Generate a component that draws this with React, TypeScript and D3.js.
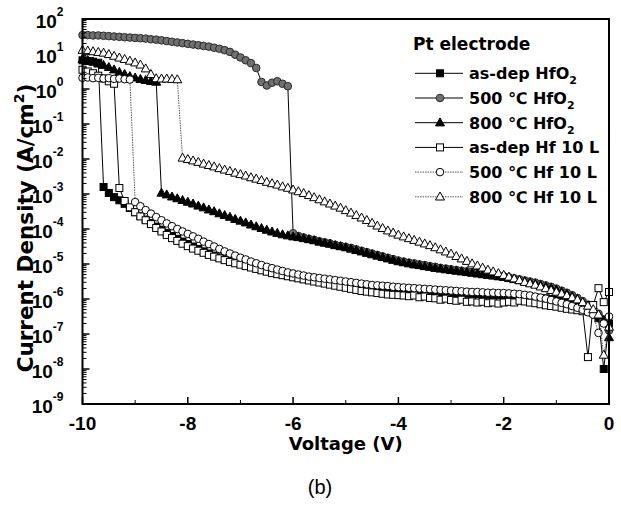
import React from 'react';
import * as d3 from 'd3';

// Sweep voltage (V)
const voltage = [
  -10, -9.9, -9.8, -9.7, -9.6, -9.5, -9.4, -9.3, -9.2, -9.1,
  -9, -8.9, -8.8, -8.7, -8.6, -8.5, -8.4, -8.3, -8.2, -8.1,
  -8, -7.9, -7.8, -7.7, -7.6, -7.5, -7.4, -7.3, -7.2, -7.1,
  -7, -6.9, -6.8, -6.7, -6.6, -6.5, -6.4, -6.3, -6.2, -6.1,
  -6, -5.9, -5.8, -5.7, -5.6, -5.5, -5.4, -5.3, -5.2, -5.1,
  -5, -4.9, -4.8, -4.7, -4.6, -4.5, -4.4, -4.3, -4.2, -4.1,
  -4, -3.9, -3.8, -3.7, -3.6, -3.5, -3.4, -3.3, -3.2, -3.1,
  -3, -2.9, -2.8, -2.7, -2.6, -2.5, -2.4, -2.3, -2.2, -2.1,
  -2, -1.9, -1.8, -1.7, -1.6, -1.5, -1.4, -1.3, -1.2, -1.1,
  -1, -0.9, -0.8, -0.7, -0.6, -0.5, -0.4, -0.3, -0.2, -0.1,
  0,
];

// log10 of current density (A/cm^2), one value per voltage point
const logJ_asDepHfO2 = [
  0.82, 0.80, 0.78, 0.75, -2.80, -2.97, -3.09, -3.18, -3.28, -3.40,
  -3.52, -3.63, -3.73, -3.83, -3.93, -4.02, -4.11, -4.20, -4.28, -4.36,
  -4.43, -4.50, -4.57, -4.64, -4.70, -4.76, -4.81, -4.86, -4.91, -4.95,
  -5.00, -5.04, -5.08, -5.12, -5.16, -5.20, -5.24, -5.27, -5.30, -5.33,
  -5.36, -5.39, -5.42, -5.44, -5.47, -5.49, -5.51, -5.53, -5.55, -5.57,
  -5.59, -5.60, -5.62, -5.63, -5.65, -5.66, -5.67, -5.68, -5.70, -5.71,
  -5.72, -5.73, -5.74, -5.75, -5.76, -5.77, -5.78, -5.79, -5.80, -5.81,
  -5.82, -5.83, -5.84, -5.85, -5.85, -5.86, -5.87, -5.88, -5.88, -5.89,
  -5.90, -5.91, -5.92, -5.93, -5.94, -5.95, -5.96, -5.97, -5.98, -6.00,
  -6.02, -6.05, -6.08, -6.12, -6.16, -6.20, -6.30, -6.40, -6.55, -8.00,
  -6.70,
];
const logJ_500HfO2 = [
  1.54, 1.54, 1.53, 1.53, 1.52, 1.51, 1.50, 1.49, 1.48, 1.47,
  1.46, 1.45, 1.44, 1.42, 1.41, 1.39, 1.37, 1.35, 1.33, 1.31,
  1.29, 1.27, 1.25, 1.23, 1.21, 1.18, 1.15, 1.11, 1.06, 0.98,
  0.90, 0.82, 0.74, 0.60, 0.20, 0.10, 0.18, 0.22, 0.15, 0.08,
  -4.12, -4.20, -4.24, -4.28, -4.31, -4.35, -4.38, -4.41, -4.45, -4.48,
  -4.51, -4.54, -4.58, -4.62, -4.66, -4.70, -4.74, -4.78, -4.82, -4.86,
  -4.90, -4.93, -4.96, -4.98, -5.01, -5.03, -5.06, -5.08, -5.11, -5.13,
  -5.15, -5.17, -5.19, -5.21, -5.23, -5.25, -5.27, -5.29, -5.31, -5.33,
  -5.35, -5.38, -5.41, -5.44, -5.47, -5.50, -5.53, -5.57, -5.61, -5.65,
  -5.70, -5.76, -5.82, -5.89, -5.97, -6.06, -6.16, -6.28, -6.42, -6.58,
  -6.90,
];
const logJ_800HfO2 = [
  0.85, 0.82, 0.78, 0.72, 0.68, 0.62, 0.55, 0.48, 0.42, 0.36,
  0.32, 0.28, 0.25, 0.22, 0.20, -2.97, -3.02, -3.08, -3.13, -3.18,
  -3.23, -3.28, -3.34, -3.39, -3.45, -3.50, -3.56, -3.61, -3.66, -3.72,
  -3.77, -3.82, -3.88, -3.93, -3.98, -4.03, -4.08, -4.12, -4.16, -4.19,
  -4.22, -4.24, -4.27, -4.30, -4.33, -4.37, -4.40, -4.43, -4.47, -4.50,
  -4.53, -4.57, -4.61, -4.65, -4.69, -4.73, -4.77, -4.81, -4.85, -4.89,
  -4.93, -4.96, -4.99, -5.02, -5.04, -5.07, -5.09, -5.12, -5.14, -5.16,
  -5.18, -5.20, -5.22, -5.24, -5.26, -5.28, -5.30, -5.32, -5.34, -5.36,
  -5.38, -5.41, -5.44, -5.47, -5.50, -5.53, -5.57, -5.61, -5.65, -5.69,
  -5.74, -5.80, -5.86, -5.93, -6.01, -6.10, -6.20, -6.32, -6.46, -6.62,
  -7.10,
];
const logJ_asDepHf10L = [
  0.55, 0.50, 0.45, 0.38, 0.30, 0.22, 0.15, -2.83, -3.20, -3.38,
  -3.52, -3.64, -3.75, -3.86, -3.97, -4.07, -4.17, -4.26, -4.34, -4.42,
  -4.49, -4.56, -4.62, -4.68, -4.74, -4.79, -4.84, -4.89, -4.94, -4.98,
  -5.02, -5.06, -5.10, -5.14, -5.18, -5.22, -5.26, -5.29, -5.32, -5.35,
  -5.38, -5.41, -5.44, -5.47, -5.50, -5.53, -5.56, -5.59, -5.62, -5.65,
  -5.68, -5.71, -5.74, -5.77, -5.79, -5.81, -5.83, -5.85, -5.87, -5.88,
  -5.89, -5.90, -5.92, -5.90, -5.95, -5.93, -5.97, -5.98, -6.02, -5.99,
  -6.03, -6.05, -6.02, -6.08, -6.07, -6.10, -6.08, -6.12, -6.10, -6.13,
  -6.10, -6.08, -6.10, -6.05, -6.07, -6.10, -6.12, -6.15, -6.18, -6.20,
  -6.22, -6.25, -6.28, -6.30, -6.32, -6.35, -7.66, -6.17, -5.69, -6.09,
  -5.80,
];
const logJ_500Hf10L = [
  0.32, 0.33, 0.31, 0.32, 0.30, 0.31, 0.29, 0.30, 0.28, 0.27,
  -3.23, -3.35, -3.46, -3.56, -3.66, -3.75, -3.84, -3.92, -4.00, -4.07,
  -4.14, -4.21, -4.28, -4.36, -4.43, -4.50, -4.57, -4.64, -4.70, -4.76,
  -4.82, -4.87, -4.93, -4.98, -5.03, -5.08, -5.12, -5.16, -5.20, -5.24,
  -5.27, -5.30, -5.33, -5.36, -5.38, -5.40, -5.42, -5.44, -5.46, -5.48,
  -5.50, -5.52, -5.54, -5.56, -5.58, -5.60, -5.61, -5.62, -5.63, -5.65,
  -5.66, -5.67, -5.68, -5.69, -5.70, -5.71, -5.72, -5.73, -5.74, -5.75,
  -5.76, -5.77, -5.78, -5.79, -5.80, -5.80, -5.81, -5.82, -5.82, -5.83,
  -5.83, -5.84, -5.85, -5.86, -5.88, -5.90, -5.93, -5.96, -5.99, -6.03,
  -6.07, -6.11, -6.15, -6.20, -6.25, -6.31, -6.38, -6.45, -6.97, -6.70,
  -6.50,
];
const logJ_800Hf10L = [
  1.11, 1.09, 1.07, 1.05, 1.03, 0.99, 0.94, 0.89, 0.85, 0.80,
  0.75, 0.69, 0.58, 0.42, 0.30, 0.29, 0.29, 0.28, 0.27, -1.97,
  -2.01, -2.05, -2.09, -2.14, -2.18, -2.22, -2.27, -2.31, -2.35, -2.40,
  -2.44, -2.48, -2.53, -2.57, -2.61, -2.66, -2.70, -2.74, -2.79, -2.83,
  -2.88, -2.93, -2.98, -3.04, -3.10, -3.16, -3.22, -3.28, -3.34, -3.40,
  -3.47, -3.54, -3.61, -3.68, -3.75, -3.83, -3.91, -3.98, -4.05, -4.11,
  -4.17, -4.22, -4.27, -4.32, -4.37, -4.42, -4.47, -4.53, -4.59, -4.65,
  -4.71, -4.78, -4.85, -4.92, -4.99, -5.05, -5.11, -5.17, -5.22, -5.27,
  -5.32, -5.37, -5.42, -5.47, -5.52, -5.56, -5.60, -5.65, -5.70, -5.75,
  -5.80, -5.85, -5.90, -5.96, -6.02, -6.10, -6.20, -6.30, -6.45, -7.60,
  -6.80,
];

const yTickExponents = [2, 1, 0, -1, -2, -3, -4, -5, -6, -7, -8, -9];
const xMajorTicks = [-10, -8, -6, -4, -2, 0];
const xMinorTicks = [-9, -7, -5, -3, -1];

const legendTitle = 'Pt electrode';
const seriesNames = [
  ['as-dep HfO', '2'],
  ['500 \u2103 HfO', '2'],
  ['800 \u2103 HfO', '2'],
  ['as-dep Hf 10 L', ''],
  ['500 \u2103 Hf 10 L', ''],
  ['800 \u2103 Hf 10 L', ''],
];

type MarkerKind = 'square' | 'circle' | 'triangle';
interface SeriesStyle {
  data: number[];
  marker: MarkerKind;
  fill: string;
  stroke: string;
  lineColor: string;
  dash?: string;
}

const seriesStyles: SeriesStyle[] = [
  { data: logJ_asDepHfO2, marker: 'square', fill: '#000', stroke: '#000', lineColor: '#000' },
  { data: logJ_500HfO2, marker: 'circle', fill: '#707070', stroke: '#2a2a2a', lineColor: '#000' },
  { data: logJ_800HfO2, marker: 'triangle', fill: '#000', stroke: '#000', lineColor: '#000' },
  { data: logJ_asDepHf10L, marker: 'square', fill: '#fff', stroke: '#000', lineColor: '#000' },
  { data: logJ_500Hf10L, marker: 'circle', fill: '#fff', stroke: '#000', lineColor: '#555', dash: '1.5,1' },
  { data: logJ_800Hf10L, marker: 'triangle', fill: '#fff', stroke: '#000', lineColor: '#555', dash: '1.5,1' },
];

function Marker({ kind, cx, cy, fill, stroke }: { kind: MarkerKind; cx: number; cy: number; fill: string; stroke: string }) {
  if (kind === 'square') {
    const s = 7;
    return <rect x={cx - s / 2} y={cy - s / 2} width={s} height={s} fill={fill} stroke={stroke} strokeWidth={1} />;
  }
  if (kind === 'circle') {
    return <circle cx={cx} cy={cy} r={3.8} fill={fill} stroke={stroke} strokeWidth={1} />;
  }
  const h = 8;
  const w = 9;
  const pts = `${cx},${cy - h * 0.6} ${cx - w / 2},${cy + h * 0.4} ${cx + w / 2},${cy + h * 0.4}`;
  return <polygon points={pts} fill={fill} stroke={stroke} strokeWidth={1} />;
}

export default function App() {
  const W = 621;
  const H = 506;
  const left = 82.5;
  const right = 609;
  const top = 19;
  const bottom = 404;

  const x = d3.scaleLinear().domain([-10, 0]).range([left, right]);
  const y = d3.scaleLog().domain([1e-9, 1e2]).range([bottom, top]);

  const line = d3
    .line<[number, number]>()
    .x((d) => x(d[0]))
    .y((d) => y(d[1]));

  const minorY: number[] = [];
  for (let e = -9; e < 2; e++) {
    for (let k = 2; k <= 9; k++) minorY.push(k * Math.pow(10, e));
  }

  const tickFont = "'Liberation Sans', Arial, sans-serif";
  const titleFont = "'DejaVu Sans', sans-serif";

  const legendY0 = 73.3;
  const legendDy = 24.7;

  return (
    <svg width={W} height={H} style={{ position: 'absolute', left: 0, top: 0, background: '#fff' }}>
      <rect x={0} y={0} width={W} height={H} fill="#fff" />

      {/* series */}
      {seriesStyles.map((s, si) => {
        const pts: [number, number][] = voltage.map((v, i) => [v, Math.pow(10, s.data[i])]);
        return (
          <g key={si}>
            <path d={line(pts) || ''} fill="none" stroke={s.lineColor} strokeWidth={1} strokeDasharray={s.dash} />
            {pts.map((p, i) => (
              <Marker key={i} kind={s.marker} cx={x(p[0])} cy={y(p[1])} fill={s.fill} stroke={s.stroke} />
            ))}
          </g>
        );
      })}

      {/* frame */}
      <rect x={left} y={top} width={right - left} height={bottom - top} fill="none" stroke="#000" strokeWidth={2} />

      {/* y ticks */}
      {yTickExponents.map((e) => (
        <line key={'ym' + e} x1={left} x2={left + 7} y1={y(Math.pow(10, e))} y2={y(Math.pow(10, e))} stroke="#000" strokeWidth={1.5} />
      ))}
      {minorY.map((v, i) => (
        <line key={'yn' + i} x1={left} x2={left + 4} y1={y(v)} y2={y(v)} stroke="#000" strokeWidth={1} />
      ))}
      {yTickExponents.map((e) => (
        <text key={'yl' + e} fontFamily={tickFont} fontWeight="bold" fontSize={19} y={y(Math.pow(10, e)) + 8.5}>
          <tspan x={63.5} textAnchor="end">10</tspan>
          <tspan fontSize={12} dy={-12}>{e < 0 ? '-' + Math.abs(e) : String(e)}</tspan>
        </text>
      ))}

      {/* x ticks */}
      {xMajorTicks.map((v) => (
        <line key={'xm' + v} x1={x(v)} x2={x(v)} y1={bottom} y2={bottom - 7} stroke="#000" strokeWidth={1.5} />
      ))}
      {xMinorTicks.map((v) => (
        <line key={'xn' + v} x1={x(v)} x2={x(v)} y1={bottom} y2={bottom - 4} stroke="#000" strokeWidth={1} />
      ))}
      {xMajorTicks.map((v) => (
        <text key={'xl' + v} x={x(v)} y={429.5} textAnchor="middle" fontFamily={tickFont} fontWeight="bold" fontSize={19}>
          {String(v)}
        </text>
      ))}

      {/* axis titles */}
      <text x={(left + right) / 2} y={450} textAnchor="middle" fontFamily={titleFont} fontWeight="bold" fontSize={18}>
        Voltage (V)
      </text>
      <text transform="translate(33,228) rotate(-90)" textAnchor="middle" fontFamily={titleFont} fontWeight="bold" fontSize={21.5}>
        Current Density (A/cm<tspan fontSize={14} dy={-9}>2</tspan><tspan dy={9}>)</tspan>
      </text>
      <text x={320} y={494} textAnchor="middle" fontFamily="'Liberation Sans Narrow', 'Liberation Sans', sans-serif" fontSize={20}>
        (b)
      </text>

      {/* legend */}
      <text x={413} y={50} fontFamily={titleFont} fontWeight="bold" fontSize={17}>
        {legendTitle}
      </text>
      {seriesStyles.map((s, i) => {
        const cy = legendY0 + i * legendDy;
        return (
          <g key={'lg' + i}>
            <line x1={415} x2={463} y1={cy} y2={cy} stroke={s.lineColor} strokeWidth={1} strokeDasharray={s.dash} />
            <Marker kind={s.marker} cx={440} cy={cy} fill={s.fill} stroke={s.stroke} />
            <text x={469} y={cy + 6} fontFamily={titleFont} fontWeight="bold" fontSize={16}>
              {seriesNames[i][0]}
              {seriesNames[i][1] ? (
                <tspan fontSize={11} dy={5}>
                  {seriesNames[i][1]}
                </tspan>
              ) : null}
            </text>
          </g>
        );
      })}
    </svg>
  );
}
